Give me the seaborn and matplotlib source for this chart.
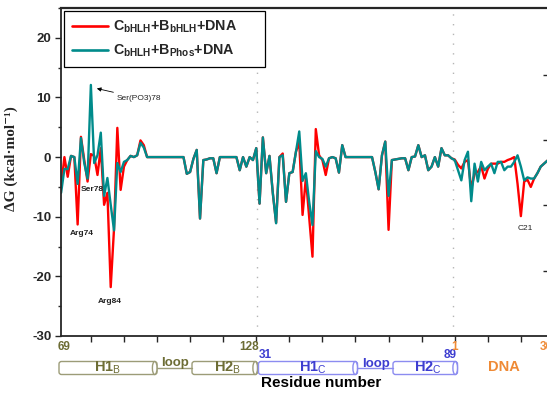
import numpy as np
import pandas as pd
import matplotlib
matplotlib.use("Agg")
import matplotlib.pyplot as plt
import seaborn as sns
from matplotlib.patches import FancyBboxPatch, Ellipse
from matplotlib.lines import Line2D

# ---------------- data ----------------
res_B = list(range(69, 129))   # bHLH of B (60 residues)
res_C = list(range(31, 90))    # bHLH of C (59 residues)
res_D = list(range(1, 31))     # DNA nucleotides (30)

bhlh_B = [-5.0, 0.0, -3.3, 0.2, 0.0, -11.3, 3.4, -0.5, -4.1, 0.5,
          0.2, -3.0, 1.5, -8.0, -6.0, -21.8, -12.0, 4.9, -5.5, -1.6,
          -0.5, 0.2, 0.0, 0.3, 2.8, 2.0, 0.0, 0.0, 0.0, 0.0,
          0.0, 0.0, 0.0, 0.0, 0.0, 0.0, 0.0, 0.0, -2.8, -2.5,
          -0.3, 1.2, -10.3, -0.5, -0.4, -0.2, -0.2, -2.7, 0.0, 0.0,
          0.0, 0.0, 0.0, 0.0, -2.2, 0.0, -1.6, 0.0, -0.5, 1.5]
phos_B = [-6.0, -2.0, -2.0, 0.2, 0.0, -4.5, 3.2, -1.0, -3.6, 12.1,
          -1.0, 0.3, 4.1, -6.5, -3.5, -8.0, -12.3, -1.0, -2.5, -0.8,
          -0.5, 0.2, 0.0, 0.3, 2.4, 1.6, 0.0, 0.0, 0.0, 0.0,
          0.0, 0.0, 0.0, 0.0, 0.0, 0.0, 0.0, 0.0, -2.8, -2.5,
          -0.3, 1.2, -10.3, -0.5, -0.4, -0.2, -0.2, -2.7, 0.0, 0.0,
          0.0, 0.0, 0.0, 0.0, -2.2, 0.0, -1.6, 0.0, -0.5, 1.5]

bhlh_C = [-7.8, 3.3, -2.7, 0.2, -6.0, -11.0, 0.0, 0.6, -7.5, -2.7,
          -2.5, 0.9, 2.5, -9.7, -3.5, -10.0, -16.7, 4.7, 0.3, -0.5,
          -3.0, -0.2, 0.0, -0.2, -2.6, 2.0, 0.0, 0.0, 0.0, 0.0,
          0.0, 0.0, 0.0, 0.0, 0.0, -2.5, -5.4, 0.3, 2.6, -12.2,
          -0.5, -0.4, -0.3, -0.2, -0.2, -2.2, 0.0, 0.1, 2.0, 0.0,
          0.3, -2.2, -1.6, 0.0, -1.6, 1.5, 0.3, 0.3, -0.2]
phos_C = [-7.8, 3.3, -2.7, 0.2, -6.0, -11.1, 0.0, 0.3, -7.5, -2.7,
          -2.5, 0.9, 4.3, -4.0, -2.7, -7.5, -11.4, 1.0, 0.0, -0.3,
          -1.6, -0.2, 0.0, -0.2, -2.6, 2.0, 0.0, 0.0, 0.0, 0.0,
          0.0, 0.0, 0.0, 0.0, 0.0, -2.5, -5.4, 0.3, 2.6, -6.5,
          -0.5, -0.4, -0.3, -0.2, -0.2, -2.2, 0.0, 0.1, 2.0, 0.0,
          0.3, -2.2, -1.6, 0.0, -1.6, 1.5, 0.3, 0.3, -0.2]

bhlh_D = [-0.4, -1.3, -1.9, -0.8, -0.5, -5.3, -2.8, -2.5, -1.5, -3.6,
          -2.0, -1.1, -1.1, -1.1, -0.8, -0.8, -0.5, -0.3, 0.0, -4.5,
          -9.9, -4.1, -3.8, -5.0, -3.6, -2.7, -1.6, -1.1, -0.6, -0.3]
phos_D = [-0.5, -2.2, -3.9, -0.5, 0.9, -7.4, -1.1, -4.1, -0.8, -2.2,
          -1.6, -1.1, -2.7, -0.8, -0.8, -2.2, -1.6, -1.6, -0.8, 0.3,
          -1.6, -3.9, -3.4, -3.6, -3.6, -2.7, -1.6, -1.1, -0.6, -0.3]

series_names = ["C_bHLH+B_bHLH+DNA", "C_bHLH+B_Phos+DNA"]
series_colors = ["#ff0000", "#008b8b"]

yticks = [-30, -20, -10, 0, 10, 20]

# ---------------- build table ----------------
bhlh = bhlh_B + bhlh_C + bhlh_D
phos = phos_B + phos_C + phos_D
n = len(bhlh)
pos = np.arange(1, n + 1)
df = pd.concat([
    pd.DataFrame({"pos": pos, "dG": bhlh, "complex": series_names[0]}),
    pd.DataFrame({"pos": pos, "dG": phos, "complex": series_names[1]}),
], ignore_index=True)

# ---------------- style ----------------
sns.set_style("ticks")
plt.rcParams["font.family"] = ["Liberation Sans", "DejaVu Sans"]
plt.rcParams["mathtext.fontset"] = "custom"
plt.rcParams["mathtext.rm"] = "Liberation Sans"
plt.rcParams["mathtext.bf"] = "Liberation Sans:bold"
plt.rcParams["mathtext.it"] = "Liberation Sans:italic"
plt.rcParams["mathtext.sf"] = "Liberation Sans"

W, H = 547, 398
fig = plt.figure(figsize=(W / 100, H / 100), dpi=100)
ax_l, ax_r, ax_t, ax_b = 61, 547, 8, 336
ax = fig.add_axes([ax_l / W, 1 - ax_b / H, (ax_r - ax_l) / W, (ax_b - ax_t) / H])

sns.lineplot(data=df, x="pos", y="dG", hue="complex", palette=series_colors,
             hue_order=series_names, estimator=None, sort=False,
             linewidth=1.7, legend=False, ax=ax)

ax.set_xlim(0.97, 147.9)
ax.set_ylim(-30, 25)

# separators between B | C | DNA
for xv in (len(bhlh_B) + 0.3, len(bhlh_B) + len(bhlh_C) + 0.5):
    ax.axvline(xv, color="#b5b5b5", lw=1.0, ls=(0, (1, 6)), zorder=0.5)

# axes styling
ax.set_yticks(yticks)
ax.set_yticks(np.arange(-25, 26, 10), minor=True)
ax.set_yticklabels([str(v) for v in yticks], fontweight="bold", fontsize=9.5)
ax.set_xticks(np.arange(10, 148, 10))
ax.set_xticklabels([])
ax.tick_params(axis="y", which="major", direction="out", length=4.5, width=1.0, pad=2.5)
ax.tick_params(axis="y", which="minor", direction="out", length=2.5, width=1.0)
ax.tick_params(axis="x", which="major", direction="out", length=4, width=1.0)
for s in ("left", "bottom"):
    ax.spines[s].set_linewidth(1.3)
ax.spines["top"].set_linewidth(1.6)
ax.spines["right"].set_visible(False)
ax.set_xlabel("")
ax.set_ylabel("\u0394G (kcal\u00b7mol\u207b\u00b9)", fontsize=11, fontweight="bold",
              family=["Liberation Serif", "DejaVu Serif"])
ax.yaxis.set_label_coords(-0.088, 0.54)

# faint right-hand ticks (edge of neighbouring panel)
ax2 = ax.twinx()
ax2.set_ylim(0, 5.02)
ax2.set_yticks([1, 2, 3, 4])
ax2.set_yticklabels([])
ax2.tick_params(axis="y", direction="in", length=3, width=1.0)
for s in ax2.spines.values():
    s.set_visible(False)

# legend
handles = [Line2D([], [], color=c, lw=1.9) for c in series_colors]
labels = ["C$_{\\mathbf{bHLH}}$+B$_{\\mathbf{bHLH}}$+DNA",
          "C$_{\\mathbf{bHLH}}$+B$_{\\mathbf{Phos}}$+DNA"]
leg = ax.legend(handles, labels, loc="upper left",
                bbox_to_anchor=(0.006, 0.80, 0.4136, 0.191), mode="expand",
                borderaxespad=0, fancybox=False, edgecolor="black", framealpha=1,
                prop={"weight": "bold", "size": 10.3}, handlelength=2.5,
                labelspacing=0.55, borderpad=0.55, handletextpad=0.35)
leg.get_frame().set_linewidth(0.9)

# residue annotations
tkw = dict(fontsize=6, color="#222222")
ax.annotate("Ser(PO3)78", xy=(11.8, 11.5), xytext=(17.8, 9.9), ha="left", va="center",
            arrowprops=dict(arrowstyle="-|>", color="black", lw=0.6,
                            mutation_scale=6, shrinkA=0, shrinkB=0), **tkw)
ax.text(10.3, -5.5, "Ser78", ha="center", va="center", fontweight="bold", **tkw)
ax.text(7.3, -12.8, "Arg74", ha="center", va="center", fontweight="bold", **tkw)
ax.text(15.8, -24.2, "Arg84", ha="center", va="center", fontweight="bold", **tkw)
ax.text(141.3, -11.9, "C21", ha="center", va="center", **tkw)

# ---------------- bottom secondary-structure strip (pixel overlay) ----------------
ov = fig.add_axes([0, 0, 1, 1], facecolor="none")
ov.set_xlim(0, W)
ov.set_ylim(H, 0)
ov.axis("off")

olive_t = "#6d6d35"
olive_e = "#9c9c78"
blue_t = "#3d3dd0"
blue_e = "#8c8cf0"
orange = "#ef8a35"

def cylinder(x0, x1, y0, y1, ec):
    h = y1 - y0
    ov.add_patch(FancyBboxPatch((x0, y0), x1 - x0, h,
                                boxstyle="round,pad=0,rounding_size=2.5",
                                fc="white", ec=ec, lw=1.0))
    ov.add_patch(Ellipse((x1 - 2.3, y0 + h / 2), 4.6, h, fc="white", ec=ec, lw=1.0))

ov.plot([157, 192], [368, 368], color=olive_e, lw=1.0)
ov.plot([357, 393], [368, 368], color=blue_e, lw=1.0)
cylinder(59, 157, 361.5, 374.5, olive_e)
cylinder(192, 257.5, 361.5, 374.5, olive_e)
cylinder(258.5, 357.5, 361.5, 374.5, blue_e)
cylinder(393, 457.5, 361.5, 374.5, blue_e)

skw = dict(ha="center", va="center", fontweight="bold")
ov.text(108, 368, "H1$_{\\mathrm{B}}$", color=olive_t, fontsize=10.5, **skw)
ov.text(228, 368, "H2$_{\\mathrm{B}}$", color=olive_t, fontsize=10.5, **skw)
ov.text(175, 363, "loop", color=olive_t, fontsize=9.5, **skw)
ov.text(313, 368, "H1$_{\\mathrm{C}}$", color=blue_t, fontsize=10.5, **skw)
ov.text(428, 368, "H2$_{\\mathrm{C}}$", color=blue_t, fontsize=10.5, **skw)
ov.text(376, 364, "loop", color=blue_t, fontsize=9.5, **skw)
ov.text(504, 367, "DNA", color=orange, fontsize=10.5, **skw)

ov.text(64, 347, "69", color=olive_t, fontsize=8.5, **skw)
ov.text(249, 347, "128", color=olive_t, fontsize=8.5, **skw)
ov.text(265.5, 355, "31", color=blue_t, fontsize=8.5, **skw)
ov.text(450.5, 355, "89", color=blue_t, fontsize=8.5, **skw)
ov.text(455, 347, "1", color=orange, fontsize=8.5, **skw)
ov.text(546, 347, "30", color=orange, fontsize=8.5, **skw)

ov.text(321, 383, "Residue number", color="black", fontsize=11, **skw)

fig.savefig("out.png", dpi=100)
